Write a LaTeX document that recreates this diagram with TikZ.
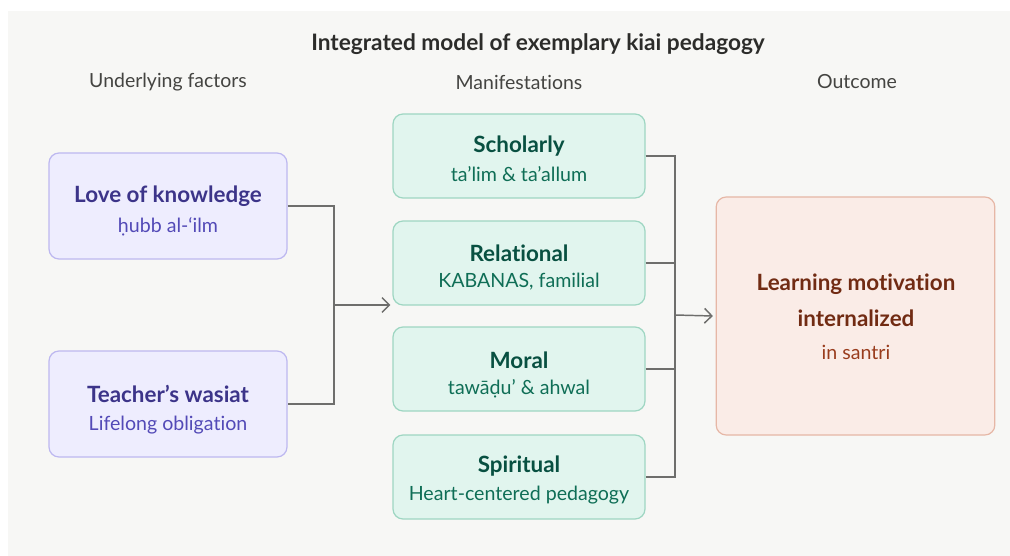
\documentclass[tikz,border=0pt]{standalone}
\usepackage{fontspec}
\setmainfont{Lato}[Ligatures=NoCommon]
\usetikzlibrary{arrows.meta}

\definecolor{panelbg}{HTML}{F7F7F5}
\definecolor{titleink}{HTML}{2C2C2A}
\definecolor{headink}{HTML}{444441}
\definecolor{wire}{HTML}{6E6E6C}
\definecolor{purfill}{HTML}{EEEDFE}
\definecolor{purline}{HTML}{BDB8F0}
\definecolor{purdark}{HTML}{3C3489}
\definecolor{purmid}{HTML}{534AB7}
\definecolor{tealfill}{HTML}{E1F5EE}
\definecolor{tealline}{HTML}{9ED6C2}
\definecolor{tealdark}{HTML}{085041}
\definecolor{tealmid}{HTML}{0F6E56}
\definecolor{coralfill}{HTML}{FAECE7}
\definecolor{coralline}{HTML}{E6B7A6}
\definecolor{coraldark}{HTML}{712B13}
\definecolor{coralmid}{HTML}{993C1D}

\tikzset{
  card/.style={rounded corners=7.5pt, line width=0.9pt, inner sep=0pt},
  factor/.style={card, fill=purfill, draw=purline, minimum width=178.5pt, minimum height=79.5pt},
  facet/.style={card, fill=tealfill, draw=tealline, minimum width=189pt, minimum height=63pt},
  result/.style={card, fill=coralfill, draw=coralline, minimum width=209pt, minimum height=178.5pt},
  heading/.style={font=\fontsize{17}{20}\selectfont\bfseries, text=titleink},
  colhead/.style={font=\fontsize{14.6}{17}\selectfont, text=headink},
  cardtitle/.style={font=\fontsize{16.8}{20}\selectfont\bfseries},
  cardsub/.style={font=\fontsize{14.7}{17}\selectfont},
  wireline/.style={draw=wire, line width=1.1pt},
  wirearrow/.style={wireline, -{Straight Barb[length=5.5pt, width=11pt, line width=1.1pt]}},
}

\begin{document}
\begin{tikzpicture}[x=0.75pt, y=-0.75pt]
  % canvas and grey panel
  \fill[white] (0,0) rectangle (1010,556);
  \fill[panelbg] (8,11) rectangle (1010,556);
  \useasboundingbox (0,0) rectangle (1010,556);

  % heading and column labels
  \node[heading] (title) at (538,44) {Integrated model of exemplary kiai pedagogy};
  \node[colhead] (hfactors) at (168,82) {Underlying factors};
  \node[colhead] (hmanif) at (519,82) {Manifestations};
  \node[colhead] (houtcome) at (857,82) {Outcome};

  % underlying factors
  \node[factor] (love) at (168,206) {};
  \node[cardtitle, text=purdark] (lovet) at (168,196) {Love of knowledge};
  \node[cardsub, text=purmid] (loves) at (168,227) {ḥubb al-‘ilm};

  \node[factor] (wasiat) at (168,404) {};
  \node[cardtitle, text=purdark] (wasiatt) at (168,394) {Teacher’s wasiat};
  \node[cardsub, text=purmid] (wasiats) at (168,425) {Lifelong obligation};

  % manifestations
  \node[facet] (schol) at (519,156) {};
  \node[cardtitle, text=tealdark] (scholt) at (519,146) {Scholarly};
  \node[cardsub, text=tealmid] (schols) at (519,174) {ta’lim \& ta’allum};

  \node[facet] (relat) at (519,263) {};
  \node[cardtitle, text=tealdark] (relatt) at (519,253) {Relational};
  \node[cardsub, text=tealmid] (relats) at (519,282) {KABANAS, familial};

  \node[facet] (moral) at (519,369) {};
  \node[cardtitle, text=tealdark] (moralt) at (519,360) {Moral};
  \node[cardsub, text=tealmid] (morals) at (519,389) {tawāḍu’ \& ahwal};

  \node[facet] (spirit) at (519,477) {};
  \node[cardtitle, text=tealdark] (spiritt) at (519,466) {Spiritual};
  \node[cardsub, text=tealmid] (spirits) at (519,495) {Heart-centered pedagogy};

  % outcome
  \node[result] (outc) at (855.5,316) {};
  \node[cardtitle, text=coraldark] (outc1) at (856,284) {Learning motivation};
  \node[cardtitle, text=coraldark] (outc2) at (856,318) {internalized};
  \node[cardsub, text=coralmid] (outc3) at (856,352) {in santri};

  % junctions
  \coordinate (jl) at (334,305);
  \coordinate (jr) at (675,315);

  % factors feed the manifestations
  \draw[wireline] (love.east) -| (jl |- wasiat.east) -- (wasiat.east);
  \draw[wirearrow] (jl) -- ([xshift=-1.5pt]jl -| relat.west);

  % manifestations feed the outcome
  \draw[wireline] (schol.east) -| (jr |- spirit.east) -- (spirit.east);
  \draw[wireline] (relat.east) -- (jr |- relat.east);
  \draw[wireline] (moral.east) -- (jr |- moral.east);
  \draw[wirearrow] (jr) -- ([xshift=-2pt]outc.west);
\end{tikzpicture}
\end{document}
